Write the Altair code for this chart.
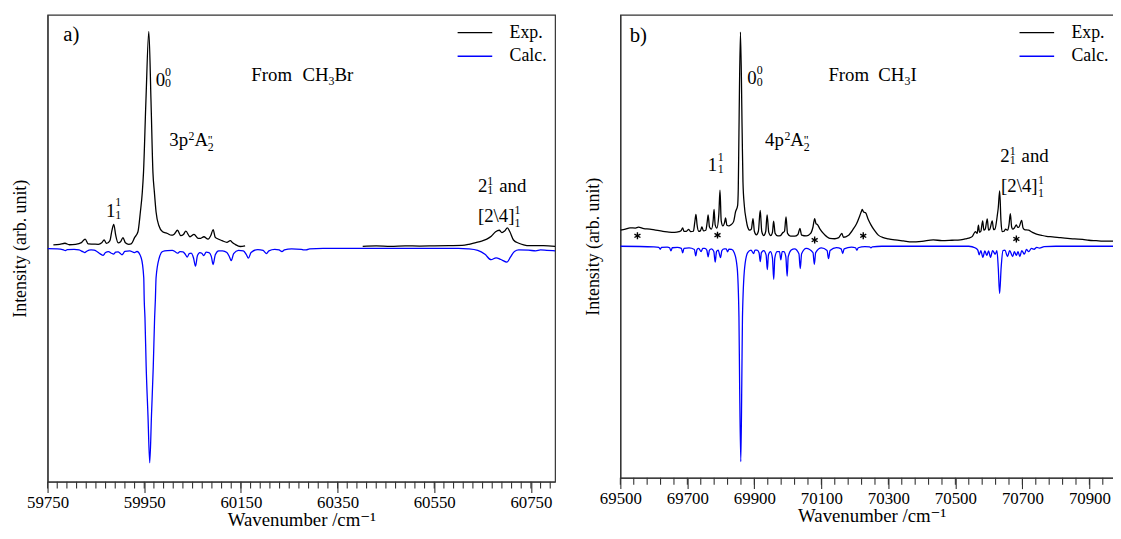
import altair as alt
import pandas as pd

SERIF = "Liberation Serif, Times New Roman, Tinos, DejaVu Serif, serif"

# ---------------- Panel a (from CH3Br) ----------------
a_exp1_wn = [59762, 59775, 59786, 59795, 59808, 59820, 59827.8, 59834, 59845, 59855, 59862, 59867, 59872,
             59879, 59883, 59887, 59891, 59896, 59901, 59906, 59911, 59918, 59923, 59930, 59937, 59942,
             59946, 59948.5, 59953.5, 59959.5, 59964, 59968, 59971, 59974.5, 59980, 59988, 59998, 60006,
             60012, 60018.8, 60025.6, 60031, 60036, 60044.7, 60053, 60061.7, 60067, 60073.4, 60082, 60088,
             60092.5, 60097, 60100.6, 60110.9, 60121, 60128, 60133, 60138, 60148.5, 60158.7]
a_exp1_int = [1.5, 1.8, 2.3, 1.6, 1.8, 2.6, 4.2, 2.0, 1.9, 1.8, 2.5, 3.8, 2.2,
              3.5, 8.0, 11.0, 6.0, 2.5, 3.0, 4.9, 2.5, 1.8, 2.0, 4.9, 7.6, 16.7,
              25.8, 35.0, 68.0, 100.0, 68.0, 35.0, 25.9, 16.7, 10.6, 7.6, 6.8, 6.0,
              6.5, 8.3, 5.8, 6.3, 7.9, 5.3, 6.4, 4.5, 4.6, 5.3, 4.2, 6.0,
              8.6, 5.0, 4.5, 3.5, 2.7, 3.5, 2.5, 1.8, 0.8, 1.1]
a_exp2_wn = [60402, 60430, 60460, 60490, 60520, 60550, 60580, 60607.6, 60622, 60636, 60648, 60658.8, 60668,
             60677, 60684.5, 60690, 60695.6, 60701.4, 60706.5, 60714, 60725, 60735, 60746.8, 60776, 60800]
a_exp2_int = [0.9, 1.1, 0.9, 1.1, 1.0, 1.1, 1.2, 1.3, 1.8, 2.6, 3.3, 4.2, 5.5,
              7.6, 8.3, 7.2, 7.9, 9.4, 7.6, 3.8, 2.3, 1.6, 1.2, 1.2, 0.9]
a_calc_wn = [59750, 59770, 59783, 59787, 59791, 59805, 59815, 59823, 59827, 59831, 59840, 59846, 59852, 59859,
             59865, 59870, 59876, 59882, 59886.5, 59891, 59896, 59900, 59904, 59910, 59920, 59930, 59935,
             59943.8, 59949, 59950, 59951.5, 59954, 59957.7, 59961.4, 59965, 59968.7, 59971.5, 59973,
             59974.5, 59981, 59988, 59998, 60008, 60014, 60018.8, 60024, 60030, 60035, 60039, 60043, 60047,
             60052, 60056, 60060, 60065, 60069, 60073.4, 60078, 60084, 60089, 60092.5, 60097, 60104, 60112,
             60121, 60126, 60130, 60135, 60145, 60155, 60161, 60165.5, 60171, 60185, 60196, 60200, 60203,
             60208, 60220, 60229, 60235, 60240, 60255, 60275, 60280, 60285, 60292, 60320, 60600, 60620,
             60640, 60655, 60667.5, 60678, 60688, 60700.5, 60708, 60716, 60725, 60745, 60760, 60770, 60783,
             60800]
a_calc_int = [-0.2, -0.3, -0.8, -1.1, -0.6, -0.5, -0.8, -1.6, -2.0, -1.4, -0.8, -0.9, -1.5, -2.6,
              -3.3, -2.0, -1.6, -2.3, -2.7, -1.8, -1.7, -2.3, -3.0, -1.5, -1.2, -2.0, -1.5,
              -4.5, -13.6, -24.0, -32.0, -54.5, -77.0, -99.0, -77.0, -54.5, -32.0, -24.0,
              -13.6, -4.5, -1.5, -1.1, -1.0, -1.6, -2.3, -1.6, -1.7, -2.8, -4.1, -2.5, -2.3,
              -4.5, -8.3, -3.5, -2.0, -2.3, -3.4, -1.8, -2.0, -4.0, -7.5, -3.0, -1.2, -1.2,
              -2.0, -3.8, -5.7, -2.5, -1.0, -1.2, -2.8, -4.6, -2.0, -0.6, -1.0, -1.9, -2.5,
              -1.2, -0.5, -0.8, -1.5, -0.8, -0.3, -0.5, -0.8, -0.8, -0.3, -0.1, -0.1, -0.3,
              -1.0, -2.8, -5.3, -4.4, -5.2, -6.4, -4.0, -1.5, -0.8, -0.9, -1.2, -0.8, -1.0,
              -1.2]

# ---------------- Panel b (from CH3I) ----------------
b_exp_wn = [69500, 69515, 69529, 69545, 69554, 69570, 69588, 69605, 69627, 69645, 69662, 69675, 69681, 69686,
            69690, 69697, 69704, 69710, 69718, 69722, 69725.7, 69729, 69734, 69739, 69743.4, 69748, 69755,
            69759, 69762, 69766, 69772, 69777, 69779.7, 69783, 69788, 69794, 69797.4, 69801, 69806, 69811,
            69814, 69818, 69824, 69830, 69838, 69843.7, 69850, 69852, 69854, 69858.5, 69863.6, 69866, 69870,
            69876, 69880, 69886, 69891, 69896, 69900, 69906, 69912, 69917.5, 69922, 69928, 69934, 69938,
            69943, 69949, 69954, 69957.5, 69962, 69970, 69978, 69984, 69990, 69994.5, 69999, 70008, 70020,
            70030, 70036, 70041, 70055, 70068, 70075, 70080, 70084, 70088, 70096, 70106, 70116, 70125,
            70140, 70152, 70161, 70166, 70180, 70195, 70205, 70215, 70220, 70222, 70226, 70232, 70240,
            70248, 70258, 70270, 70285, 70300, 70320, 70345, 70370, 70400, 70434, 70460, 70490, 70515,
            70529, 70540, 70550, 70560, 70565, 70568.8, 70572, 70576, 70581.5, 70585, 70589, 70595.2,
            70599, 70603, 70610, 70614, 70618, 70624.8, 70628, 70632.2, 70636, 70639.6, 70645, 70650,
            70656, 70660, 70664, 70668, 70671.4, 70676, 70682, 70686, 70690, 70697.8, 70702, 70706.3,
            70719, 70730, 70740, 70755, 70771.8, 70790, 70814, 70835, 70856, 70880, 70898.4, 70920,
            70940.7, 70970, 71000]
b_exp_int = [7.5, 8.0, 8.6, 8.5, 8.9, 8.2, 8.0, 7.5, 7.0, 6.6, 6.5, 6.8, 7.2, 8.6,
             6.9, 7.0, 7.9, 6.8, 7.0, 11.0, 14.9, 10.0, 7.0, 7.2, 9.0, 7.2, 7.5,
             11.0, 14.7, 9.0, 8.0, 12.0, 17.2, 10.0, 8.5, 15.0, 26.2, 12.0, 9.5, 11.0,
             13.2, 9.8, 9.5, 10.0, 11.5, 16.0, 19.0, 27.0, 53.0, 100.0, 53.0, 30.0, 19.0,
             12.0, 9.0, 7.5, 8.0, 12.9, 7.0, 5.3, 7.0, 16.7, 7.0, 5.0, 7.0, 14.7,
             6.5, 5.0, 6.5, 11.7, 6.0, 4.8, 5.0, 6.2, 7.0, 13.7, 6.0, 4.7, 4.7,
             5.5, 8.3, 5.2, 4.8, 6.0, 9.0, 12.9, 10.5, 10.2, 8.0, 6.0, 4.5, 3.7,
             3.5, 4.0, 6.0, 4.2, 5.0, 8.0, 10.5, 14.4, 16.5, 17.2, 16.0, 15.6, 12.5,
             10.0, 7.5, 5.2, 4.0, 3.5, 3.0, 2.5, 2.0, 2.3, 3.0, 2.6, 2.8, 3.0,
             3.4, 3.8, 4.5, 6.8, 6.0, 9.8, 6.5, 7.0, 11.9, 7.5, 8.0, 12.8,
             7.5, 8.0, 11.9, 7.8, 8.0, 14.0, 18.0, 25.9, 12.0, 6.8, 7.0, 8.0,
             7.5, 10.0, 15.2, 9.0, 8.0, 8.5, 10.0, 8.8, 9.0, 12.1, 8.5, 7.8,
             7.5, 6.5, 5.8, 5.2, 4.6, 4.4, 4.0, 3.7, 3.4, 3.2, 2.8, 2.6,
             2.4, 2.4, 2.4]
b_calc_wn = [69500, 69600, 69615, 69619, 69623, 69640, 69647, 69651, 69655, 69670, 69682, 69686, 69690,
             69705, 69721, 69725, 69729, 69734, 69741, 69746, 69752, 69758, 69762, 69766, 69772, 69779,
             69783, 69787, 69792, 69799, 69803, 69810, 69816, 69820, 69824, 69832, 69840, 69848.7, 69854,
             69856, 69859.5, 69862.5, 69864.5, 69871, 69880, 69890, 69897.6, 69902, 69908, 69914, 69917.6,
             69921, 69928, 69935, 69938.7, 69942, 69948, 69954, 69957.8, 69961, 69968, 69975, 69979, 69983,
             69988, 69994, 69997.9, 70001, 70010, 70020, 70033, 70037, 70041, 70055, 70075, 70079, 70083,
             70100, 70117, 70121.4, 70126, 70145, 70159, 70163.7, 70168, 70190, 70202, 70206, 70210, 70230,
             70244, 70248, 70252, 70280, 70540, 70560, 70567, 70571, 70576, 70582, 70588, 70594, 70599,
             70605, 70611, 70619, 70624, 70628, 70632, 70636.6, 70642, 70648, 70655.6, 70662, 70671, 70676,
             70682, 70687, 70692.5, 70698, 70706, 70712, 70719, 70727, 70735, 70743, 70751, 70765, 70800,
             71000]
b_calc_int = [0.0, -0.3, -0.5, -1.4, -0.5, -0.4, -0.7, -2.2, -0.7, -0.5, -1.0, -3.1, -1.0,
              -0.8, -1.5, -4.5, -1.5, -1.0, -2.5, -1.0, -1.0, -1.8, -4.9, -1.8, -1.2, -2.5,
              -7.4, -2.5, -1.8, -5.3, -2.0, -1.2, -1.2, -2.6, -1.4, -1.5, -3.0, -10.0, -33.0,
              -64.0, -100.6, -64.0, -33.0, -10.0, -3.0, -1.8, -3.4, -1.8, -1.8, -3.0, -7.2,
              -3.0, -2.0, -4.0, -10.9, -4.0, -2.5, -5.5, -15.5, -5.5, -2.5, -2.5, -6.4, -2.5,
              -2.5, -5.0, -14.0, -5.0, -1.8, -1.2, -3.5, -10.4, -3.5, -1.0, -3.0, -8.5, -3.0,
              -0.8, -2.0, -5.8, -2.0, -0.6, -1.2, -3.4, -1.2, -0.4, -0.7, -1.8, -0.7, -0.2,
              -0.3, -0.8, -0.3, 0.0, 0.0, -0.8, -1.8, -4.0, -2.0, -5.2, -2.2, -4.3, -2.2,
              -5.2, -2.0, -3.7, -2.0, -10.0, -22.1, -10.0, -2.0, -1.8, -4.8, -2.0, -4.8, -2.5,
              -4.3, -2.5, -4.8, -2.0, -3.7, -1.5, -2.5, -1.0, -1.4, -0.5, -0.9, -0.2, 0.0,
              0.0]
b_star_wn = [69551, 69790, 70080, 70225, 70682]
b_star_int = [4.9, 5.2, 2.9, 4.9, 3.4]

series_names = ["Exp.", "Calc."]
series_colors = ["#000000", "#0000ff"]

# ---------------- annotations ----------------
a_main_txt = ["0", "From", "CH", "Br", "3p", "A", "1", "2", "and", "[2\\4]"]
a_main_wn = [59974, 60171.6, 60277.5, 60343.6, 60001.8, 60053.9, 59870.8, 60640.4, 60684.6, 60640.4]
a_main_val = [75.0, 77.3, 77.3, 77.3, 47.0, 47.0, 14.5, 25.9, 25.9, 12.3]
a_scr_txt = ["0", "0", "3", "2", "\"", "2", "1", "1", "1", "1", "1", "1"]
a_scr_wn = [59993, 59993, 60331.5, 60041.7, 60081.6, 60081.6, 59890.2, 59890.2, 60659.8, 60659.8, 60716, 60716]
a_scr_val = [79.5, 74.5, 75.5, 50.0, 48.2, 44.7, 19.5, 13.6, 29.0, 25.0, 15.9, 10.0]
a_tag = ["a)"]
a_tag_wn = [59782.7]
a_tag_val = [95.8]

b_main_txt = ["0", "From", "CH", "I", "4p", "A", "1", "2", "and", "[2\\4]"]
b_main_wn = [69878.5, 70121, 70269.7, 70365.8, 69932, 70007.4, 69761, 70634.3, 70697.7, 70636.3]
b_main_val = [75.8, 77.3, 77.3, 77.3, 46.6, 46.6, 35.1, 39.3, 39.3, 25.3]
b_scr_txt = ["0", "0", "3", "2", "\"", "2", "1", "1", "1", "1", "1", "1"]
b_scr_wn = [69907, 69907, 70348, 69989.7, 70047.2, 70047.2, 69790.6, 69790.6, 70662.3, 70662.3, 70746.4, 70746.4]
b_scr_val = [80.3, 75.0, 75.5, 49.7, 47.9, 44.3, 40.0, 34.3, 42.8, 38.2, 29.0, 23.2]
b_tag = ["b)"]
b_tag_wn = [69528]
b_tag_val = [95.4]

a_major = [59750, 59950, 60150, 60350, 60550, 60750]
a_minor = list(range(59750, 60801, 20))
b_major = [69500, 69700, 69900, 70100, 70300, 70500, 70700, 70900]
b_minor = list(range(69500, 71001, 40))


def lines_frame(segments):
    rows = []
    for seg, (series, wns, vals) in enumerate(segments):
        for w, v in zip(wns, vals):
            rows.append({"wn": w, "val": v, "series": series, "seg": seg})
    return pd.DataFrame(rows)


def panel(segments, tags, mains, scripts, stars, xdom, ydom, major, minor, width, height, legx):
    xaxis = alt.Axis(values=major, format="d", tickSize=11,
                     tickColor="#333333", tickWidth=1.1, domainColor="#333333", domainWidth=1.2,
                     labelFont=SERIF, labelFontSize=17, labelColor="black", labelPadding=2,
                     labelFlush=False, grid=False,
                     title="Wavenumber /cm\u207b\u00b9", titleFont=SERIF, titleFontSize=19,
                     titleFontWeight="normal", titleColor="black", titlePadding=0)
    yaxis = alt.Axis(labels=False, ticks=False, grid=False, domainColor="#333333", domainWidth=1.2,
                     title="Intensity (arb. unit)", titleFont=SERIF, titleFontSize=18,
                     titleFontWeight="normal", titleColor="black", titlePadding=18)
    X = alt.X("wn:Q", scale=alt.Scale(domain=xdom, nice=False, zero=False), axis=xaxis)
    Y = alt.Y("val:Q", scale=alt.Scale(domain=ydom, nice=False, zero=False), axis=yaxis)
    legend = alt.Legend(title=None, orient="none", legendX=legx, legendY=9, symbolType="M-2.5,0L2.5,0",
                        symbolSize=196, symbolStrokeWidth=1.4, labelFont=SERIF, labelFontSize=18,
                        labelColor="black", labelOffset=26, rowPadding=6, padding=0)
    df = lines_frame(segments)
    lines = alt.Chart(df).mark_line(interpolate="monotone", strokeWidth=1.3, clip=True).encode(
        x=X, y=Y,
        color=alt.Color("series:N", scale=alt.Scale(domain=series_names, range=series_colors), legend=legend),
        detail="seg:N")
    mdf_minor = pd.DataFrame({"wn": minor})
    minor_ticks = alt.Chart(mdf_minor).mark_rule(color="#333333", strokeWidth=1.1).encode(
        x="wn:Q", y=alt.value(height), y2=alt.value(height + 7))
    tdf = pd.DataFrame({"wn": tags[1], "val": tags[2], "t": tags[0]})
    tag = alt.Chart(tdf).mark_text(align="left", baseline="alphabetic", font=SERIF, fontSize=21,
                                   color="black").encode(x="wn:Q", y="val:Q", text="t:N")
    mdf = pd.DataFrame({"wn": mains[1], "val": mains[2], "t": mains[0]})
    main = alt.Chart(mdf).mark_text(align="left", baseline="alphabetic", font=SERIF, fontSize=19,
                                    color="black").encode(x="wn:Q", y="val:Q", text="t:N")
    sdf = pd.DataFrame({"wn": scripts[1], "val": scripts[2], "t": scripts[0]})
    scr = alt.Chart(sdf).mark_text(align="left", baseline="alphabetic", font=SERIF, fontSize=12,
                                   color="black").encode(x="wn:Q", y="val:Q", text="t:N")
    layers = [lines, minor_ticks, tag, main, scr]
    if stars is not None:
        stdf = pd.DataFrame({"wn": stars[0], "val": stars[1]})
        st = alt.Chart(stdf).mark_point(
            shape="M0,-1L0,1M-0.87,-0.5L0.87,0.5M-0.87,0.5L0.87,-0.5",
            size=49, strokeWidth=1.4, color="black", filled=False, opacity=1).encode(x="wn:Q", y="val:Q")
        layers.append(st)
    return alt.layer(*layers).properties(width=width, height=height)


pa = panel([("Exp.", a_exp1_wn, a_exp1_int), ("Exp.", a_exp2_wn, a_exp2_int), ("Calc.", a_calc_wn, a_calc_int)],
           (a_tag, a_tag_wn, a_tag_val), (a_main_txt, a_main_wn, a_main_val), (a_scr_txt, a_scr_wn, a_scr_val),
           None, [59750, 60800], [-107.7, 107.7], a_major, a_minor, 513, 472, 423)
pb = panel([("Exp.", b_exp_wn, b_exp_int), ("Calc.", b_calc_wn, b_calc_int)],
           (b_tag, b_tag_wn, b_tag_val), (b_main_txt, b_main_wn, b_main_val), (b_scr_txt, b_scr_wn, b_scr_val),
           (b_star_wn, b_star_int), [69500, 71000], [-108.1, 108.1], b_major, b_minor, 508, 468, 412)

chart = alt.hconcat(pa, pb, spacing=28).resolve_scale(
    x="independent", y="independent", color="independent").resolve_legend(color="independent").configure_view(
    stroke="#333333", strokeWidth=1.2).properties(
    padding={"left": 3, "top": 3, "right": -11, "bottom": -2}, background="white")

chart.save("out.html", embed_options={"renderer": "svg", "actions": False})
